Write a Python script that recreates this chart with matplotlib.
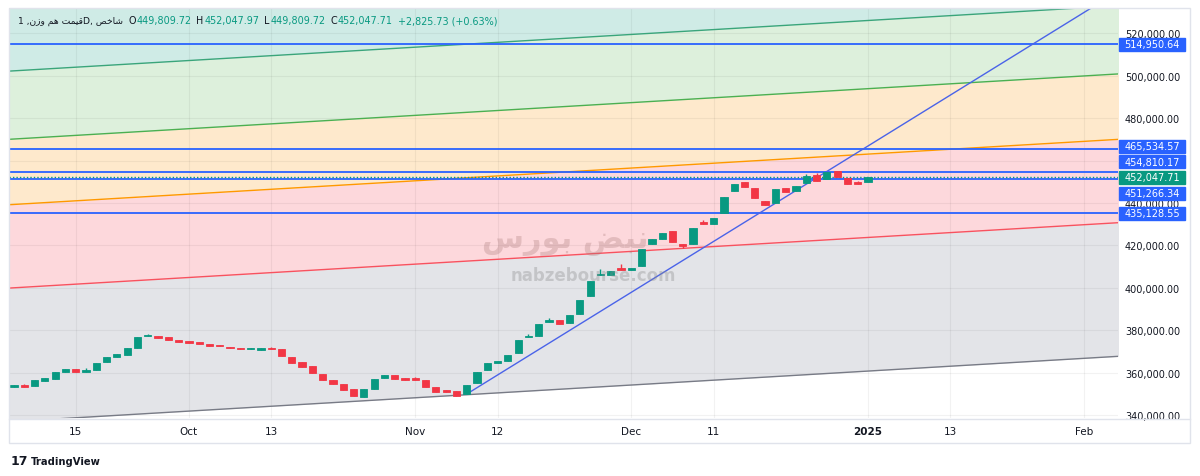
"""Daily candles of the equal-weight index with a fib channel and levels (TradingView look)."""
import matplotlib
matplotlib.use("Agg")
import matplotlib.pyplot as plt
from matplotlib.patches import Rectangle
from matplotlib.lines import Line2D
from matplotlib.transforms import blended_transform_factory

# one entry per trading session (Sat-Wed weeks); last bar is 2025-01-01
opens = [353100, 354200, 353800, 355900, 357100, 360200, 361700, 360400, 361400, 365000,
         367200, 368300, 371800, 377400, 377300, 376700, 375400, 375000, 374300, 373500,
         373200, 372100, 371600, 371300, 370500, 371700, 371100, 367500, 364900, 363000,
         359500, 356700, 354600, 352100, 348400, 352300, 357500, 358900, 357500, 357600,
         356500, 353400, 351700, 351200, 349800, 355100, 361400, 364500, 365500, 369100,
         376700, 377100, 384000, 384700, 383400, 387800, 396300, 405900, 406000, 409200,
         408500, 410400, 420800, 423200, 426800, 420800, 420800, 430900, 429900, 435300,
         445500, 449700, 447200, 440800, 439800, 447100, 445500, 449400, 453300, 451300,
         454900, 451600, 449700, 449809.72]
closes = [354200, 353200, 356400, 357600, 360300, 361700, 360400, 361300, 364700, 367500,
          368800, 371800, 376900, 377900, 376300, 375400, 374400, 374000, 373400, 372700,
          372600, 371500, 371300, 371600, 371600, 371200, 367700, 364700, 362800, 359800,
          356500, 354600, 352000, 348800, 352100, 357000, 358900, 357100, 356500, 356600,
          353400, 351000, 351000, 349100, 354400, 360200, 364400, 365600, 368300, 375400,
          377300, 383100, 384700, 383100, 387000, 394300, 403100, 406400, 407900, 408500,
          409200, 418200, 423200, 426000, 421700, 419600, 428300, 430200, 432900, 443000,
          449100, 447700, 442200, 438900, 446400, 445200, 448100, 452600, 450200, 454500,
          452200, 448900, 448800, 452047.71]
highs = [354200, 354600, 356400, 357600, 360300, 361700, 361700, 362000, 364700, 367500,
         368800, 371800, 376900, 378300, 377300, 376700, 375400, 375000, 374300, 373500,
         373200, 372100, 371600, 371600, 371600, 372200, 371100, 367500, 364900, 363000,
         359500, 356700, 354600, 352100, 352100, 357000, 358900, 358900, 357500, 358100,
         356500, 353400, 351700, 351200, 354400, 360200, 364400, 365600, 368300, 375400,
         378400, 383100, 385900, 384700, 387000, 394300, 403100, 408900, 407900, 411000,
         409200, 418200, 423200, 426000, 426800, 420800, 428300, 432000, 432900, 443000,
         449100, 449700, 447200, 440800, 446400, 447100, 448100, 453700, 454000, 454500,
         455300, 451600, 450400, 452047.97]
lows = [353100, 353200, 353800, 355900, 357100, 360200, 360400, 360400, 361400, 365000,
        367200, 368300, 371800, 377400, 376300, 375400, 374400, 374000, 373400, 372700,
        372600, 371500, 371300, 371300, 370500, 371200, 367700, 364700, 362800, 359800,
        356500, 354600, 352000, 348800, 348400, 352300, 357500, 357100, 356500, 356600,
        353400, 351000, 351000, 349100, 349800, 355100, 361400, 364500, 365500, 369100,
        376700, 377100, 384000, 383100, 383400, 387800, 396300, 405900, 406000, 408500,
        408500, 410400, 420800, 423200, 421700, 418800, 420800, 430200, 429900, 435300,
        445500, 447700, 442200, 438900, 439800, 445200, 445500, 449400, 450200, 451300,
        452200, 448900, 448800, 449809.72]

# date axis: session index of each label
tick_bars = [6, 17, 25, 39, 47, 60, 68, 83, 91, 104]
tick_labels = ["15", "Oct", "13", "Nov", "12", "Dec", "11", "2025", "13", "Feb"]

# fib channel: value of each level at bar 0, common slope per session
channel_start = [337000, 400000, 439300, 470150, 502300]
channel_slope = 286
channel_lines = ["#787b86", "#f7525f", "#ff9800", "#4caf50", "#3aa57a"]
channel_fills = ["#e3e4e8", "#fdd8dc", "#fee9cc", "#ddf0dc", "#cfebe6"]

# trend line from the November low
trend_bar, trend_start, trend_slope = 44, 349900, 2999

levels = [514950.64, 465534.57, 454810.17, 451266.34, 435128.55]
last_price = 452047.71

UP, DOWN = "#089981", "#f23645"
BLUE = "#2962ff"
INK = "#131722"

W, H = 1200, 477
fig = plt.figure(figsize=(W / 100, H / 100), dpi=100)
ax = fig.add_axes([9 / W, 1 - 419 / H, 1109 / W, 410 / H])
x0, x1 = -0.486, 107.3
y0, y1 = 338610, 531930
ax.set_xlim(x0, x1)
ax.set_ylim(y0, y1)

# channel bands
xs = [x0 - 1, x1 + 1]
lv = [[s + channel_slope * x for x in xs] for s in channel_start]
ax.fill_between(xs, lv[0], y0 - 1000, color="white", zorder=0.1)
for i in range(4):
    ax.fill_between(xs, lv[i], lv[i + 1], color=channel_fills[i], lw=0, zorder=0.1)
ax.fill_between(xs, lv[4], y1 + 20000, color=channel_fills[4], lw=0, zorder=0.1)
for i in range(5):
    ax.plot(xs, lv[i], color=channel_lines[i], lw=1.0, zorder=1)

# grid
for b in tick_bars:
    ax.axvline(b, color="black", alpha=0.05, lw=0.8, zorder=0.5)
for v in range(340000, 540000, 20000):
    ax.axhline(v, color="black", alpha=0.05, lw=0.8, zorder=0.5)

# horizontal levels and trend line
for v in levels:
    ax.axhline(v, color=BLUE, lw=1.3, zorder=2)
ax.axhline(last_price, color=UP, lw=1.0, ls=(0, (1, 1.5)), zorder=2)
tx = [trend_bar, x1 + 1]
ax.plot(tx, [trend_start, trend_start + trend_slope * (tx[1] - trend_bar)],
        color="#4a63e8", lw=1.0, zorder=2)

# candles
n = len(opens)
bars = list(range(n))
cols = [UP if c >= o else DOWN for o, c in zip(opens, closes)]
ax.vlines(bars, lows, highs, colors=cols, lw=1.0, zorder=3)
ax.bar(bars, [c - o for o, c in zip(opens, closes)], bottom=opens, width=0.7,
       color=cols, edgecolor=cols, lw=0.6, zorder=3)

# watermark
ax.text(0.502, 0.434, "\uFEB1\uFEAD\uFEEE\uFE91 \uFEBE\uFE92\uFEE7", transform=ax.transAxes,
        ha="center", va="center", fontsize=22, fontweight="bold", color="#a87878",
        alpha=0.3, zorder=4, family=["DejaVu Sans"])
ax.text(0.527, 0.349, "nabzebourse.com", transform=ax.transAxes, ha="center",
        va="center", fontsize=12, fontweight="bold", color="#8a8a8a", alpha=0.35,
        zorder=4)

# axes styling
for s in ax.spines.values():
    s.set_visible(False)
ax.yaxis.tick_right()
ax.set_yticks([340000, 360000, 380000, 400000, 420000, 440000, 480000, 500000, 520000])
ax.set_yticklabels([f"{v:,.2f}" for v in ax.get_yticks()])
ax.tick_params(axis="y", length=0, pad=5, labelsize=7, labelcolor=INK)
ax.set_xticks(tick_bars)
ax.set_xticklabels(tick_labels)
ax.tick_params(axis="x", length=0, pad=6, labelsize=7.5, labelcolor=INK)
ax.get_xticklabels()[7].set_fontweight("bold")

# price labels, stacked so they do not overlap
px = (y1 - y0) / 410
gap = 15.6 * px
tags = [(v, BLUE) for v in levels] + [(last_price, UP)]
tags.sort(key=lambda t: -t[0])
pos = {t[0]: t[0] for t in tags}
anchor = [t[0] for t in tags].index(last_price)
for i in range(anchor - 1, -1, -1):
    pos[tags[i][0]] = max(tags[i][0], pos[tags[i + 1][0]] + gap)
for i in range(anchor + 1, len(tags)):
    pos[tags[i][0]] = min(tags[i][0], pos[tags[i - 1][0]] - gap)
tr = blended_transform_factory(fig.transFigure, ax.transData)
for v, c in tags:
    yc = pos[v]
    ax.add_patch(Rectangle((1119 / W, yc - 6.5 * px), 66 / W, 13 * px, transform=tr,
                           color=c, clip_on=False, zorder=6))
    ax.text(1152 / W, yc, f"{v:,.2f}", transform=tr, ha="center", va="center",
            fontsize=7, color="white", zorder=7, clip_on=False)

# header legend, pieces chained left to right
parts = [("O", INK, 3.5), ("449,809.72", UP, 0), ("H", INK, 3.5),
         ("452,047.97", UP, 0), ("L", INK, 3.5), ("449,809.72", UP, 0), ("C", INK, 3.5),
         ("452,047.71", UP, 0), ("+2,825.73 (+0.63%)", UP, 3.5)]
last = fig.text(18 / W, 1 - 21 / H,
                "1 ,\uFEE5\uFEAF\uFEED \uFEE2\uFEEB \uFE96\uFEE4\uFEF4\uFED7D, "
                "\uFEBA\uFEA7\uFE8E\uFEB7",
                color=INK, fontsize=6.6, va="center", family=["DejaVu Sans"])
for s, c, g in parts:
    last = ax.annotate(s, xy=(1, 0.5), xycoords=last, xytext=(g + 0.3, 0),
                       textcoords="offset points", va="center", ha="left",
                       fontsize=6.9, color=c, annotation_clip=False)

# frame + footer
fig.patches.append(Rectangle((8.5 / W, 1 - 444 / H), (1190 - 8.5) / W, (444 - 8.5) / H,
                             transform=fig.transFigure, fill=False, ec="#e0e3eb", lw=1))
fig.lines.append(Line2D([9 / W, 1190 / W], [1 - 419.5 / H] * 2, transform=fig.transFigure,
                        color="#e0e3eb", lw=1))
fig.text(11 / W, 1 - 462 / H, "17", fontsize=9, fontweight="heavy", color=INK, va="center")
fig.text(31 / W, 1 - 462 / H, "TradingView", fontsize=7.2, fontweight="bold", color=INK,
         va="center")

fig.savefig("out.png", dpi=100, facecolor="white")
